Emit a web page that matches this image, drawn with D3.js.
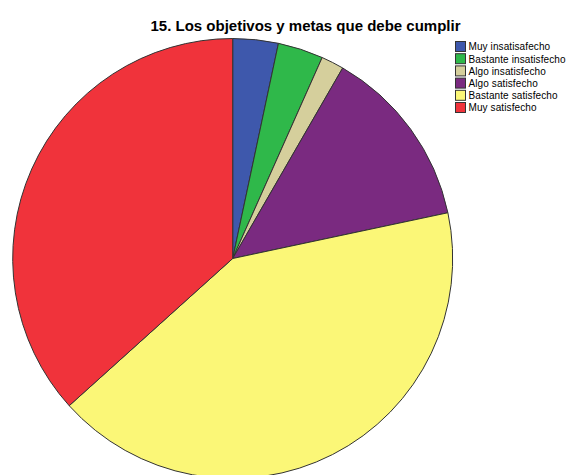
<!DOCTYPE html>
<html>
<head>
<meta charset="utf-8">
<script src="https://cdn.jsdelivr.net/npm/d3@7"></script>
<style>
  html, body { margin: 0; padding: 0; background: #fff; }
  svg { display: block; }
</style>
</head>
<body>
<svg id="chart" width="571" height="475"></svg>
<script>
// Survey responses for item 15
const categories = [
  "Muy insatisafecho",
  "Bastante insatisfecho",
  "Algo insatisfecho",
  "Algo satisfecho",
  "Bastante satisfecho",
  "Muy satisfecho"
];
const counts = [2, 2, 1, 8, 25, 22];
const colors = ["#3E58AC", "#2FB84A", "#D5CF9C", "#7A2A80", "#FBF777", "#F0333B"];
const title = "15. Los objetivos y metas que debe cumplir";

const svg = d3.select("#chart");
const font = "'Liberation Sans', Arial, sans-serif";

const cx = 232.7, cy = 258.5, r = 220;

const color = d3.scaleOrdinal().domain(categories).range(colors);

const pie = d3.pie().sort(null).value(d => d.value);
const arc = d3.arc().innerRadius(0).outerRadius(r);

const data = categories.map((c, i) => ({ key: c, value: counts[i] }));

const g = svg.append("g").attr("transform", `translate(${cx},${cy})`);
g.selectAll("path")
  .data(pie(data))
  .join("path")
  .attr("d", arc)
  .attr("fill", d => color(d.data.key))
  .attr("stroke", "#333")
  .attr("stroke-width", 1)
  .attr("stroke-linejoin", "round");

svg.append("text")
  .attr("x", 305.5)
  .attr("y", 31)
  .attr("text-anchor", "middle")
  .attr("font-family", font)
  .attr("font-weight", "bold")
  .attr("font-size", 15)
  .attr("fill", "#000")
  .text(title);

// Legend
const legend = svg.append("g").attr("transform", "translate(455.5,41.5)");
const rowH = 12.2;
const items = legend.selectAll("g")
  .data(categories)
  .join("g")
  .attr("transform", (d, i) => `translate(0,${i * rowH})`);
items.append("rect")
  .attr("x", 0).attr("y", 0)
  .attr("width", 10).attr("height", 10)
  .attr("fill", d => color(d))
  .attr("stroke", "#333")
  .attr("stroke-width", 1);
items.append("text")
  .attr("x", 13)
  .attr("y", 8.8)
  .attr("font-family", font)
  .attr("font-size", 10)
  .attr("letter-spacing", 0.1)
  .attr("fill", "#000")
  .text(d => d);
</script>
</body>
</html>
